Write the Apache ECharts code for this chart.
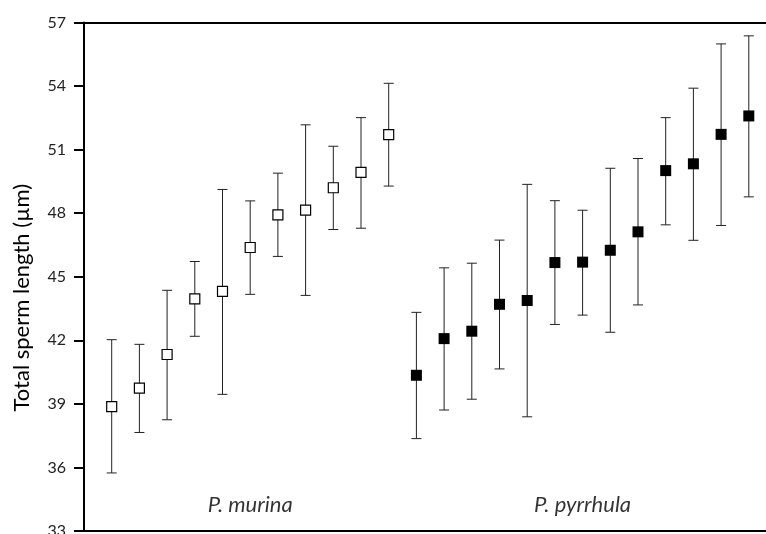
<!DOCTYPE html>
<html>
<head>
<meta charset="utf-8">
<style>
  html, body { margin: 0; padding: 0; background: #fff; }
  #chart { width: 766px; height: 534px; }
</style>
<script src="https://cdn.jsdelivr.net/npm/echarts@6/dist/echarts.min.js"></script>
</head>
<body>
<div id="chart"></div>
<script>
// group names shown inside the plot
const groupNames = ['P. murina', 'P. pyrrhula']

// means and error bar ends
const murinaMean = [38.87, 39.74, 41.33, 43.96, 44.31, 46.38, 47.92, 48.14, 49.20, 49.93, 51.71]
const murinaLow = [35.74, 37.65, 38.25, 42.19, 39.45, 44.17, 45.96, 44.12, 47.23, 47.29, 49.28]
const murinaHigh = [42.03, 41.81, 44.36, 45.72, 49.12, 48.58, 49.89, 52.17, 51.16, 52.51, 54.13]

const pyrrhulaMean = [40.35, 42.08, 42.43, 43.70, 43.88, 45.67, 45.69, 46.25, 47.12, 50.01, 50.33, 51.72, 52.59]
const pyrrhulaLow = [37.36, 38.71, 39.22, 40.65, 38.39, 42.75, 43.19, 42.38, 43.67, 47.45, 46.72, 47.42, 48.77]
const pyrrhulaHigh = [43.32, 45.42, 45.64, 46.73, 49.36, 48.59, 48.14, 50.12, 50.58, 52.51, 53.90, 55.99, 56.37]

const yTicks = [33, 36, 39, 42, 45, 48, 51, 54, 57]

const font = 'Lato, "Noto Sans", sans-serif'

// x position: individuals one after another, murina first
const nM = murinaMean.length
const nP = pyrrhulaMean.length
const murinaPts = murinaMean.map((v, i) => [i + 1, v])
const pyrrhulaPts = pyrrhulaMean.map((v, i) => [nM + i + 1, v])
const bars = murinaMean.map((v, i) => [i + 1, murinaLow[i], murinaHigh[i]])
  .concat(pyrrhulaMean.map((v, i) => [nM + i + 1, pyrrhulaLow[i], pyrrhulaHigh[i]]))
const groupPts = [
  { name: groupNames[0], value: [(1 + nM) / 2, 34.25] },
  { name: groupNames[1], value: [nM + (1 + nP) / 2, 34.25] }
]

const chart = echarts.init(document.getElementById('chart'))
chart.setOption({
  animation: false,
  grid: { left: 84, top: 22.5, right: -10.5, bottom: 3, outerBoundsMode: 'none', containLabel: false },
  xAxis: [
    {
      type: 'value', min: 0, max: nM + nP + 1,
      axisLine: { lineStyle: { color: '#000', width: 2 } },
      axisTick: { show: false }, axisLabel: { show: false }, splitLine: { show: false }
    },
    {
      type: 'value', position: 'top', min: 0, max: nM + nP + 1,
      axisLine: { show: true, lineStyle: { color: '#000', width: 2 } },
      axisTick: { show: false }, axisLabel: { show: false }, splitLine: { show: false }
    }
  ],
  yAxis: {
    type: 'value', min: yTicks[0], max: yTicks[yTicks.length - 1], interval: 3,
    name: 'Total sperm length (\u00b5m)',
    nameLocation: 'middle', nameGap: 51,
    nameTextStyle: { fontFamily: font, fontSize: 22, color: '#000', padding: [0, 42, 0, 0] },
    axisLine: { show: true, lineStyle: { color: '#000', width: 2 } },
    axisTick: { show: true, length: 10, lineStyle: { color: '#000', width: 2 } },
    axisLabel: { margin: 18, fontFamily: font, fontSize: 16, color: '#222' },
    splitLine: { show: false }
  },
  series: [
    {
      type: 'custom',
      data: bars,
      z: 2,
      renderItem(params, api) {
        const x = api.value(0)
        const lo = api.coord([x, api.value(1)])
        const hi = api.coord([x, api.value(2)])
        const half = 5
        const style = { stroke: '#222', lineWidth: 1 }
        return {
          type: 'group',
          children: [
            { type: 'line', shape: { x1: lo[0], y1: lo[1], x2: hi[0], y2: hi[1] }, style },
            { type: 'line', shape: { x1: lo[0] - half, y1: lo[1], x2: lo[0] + half, y2: lo[1] }, style },
            { type: 'line', shape: { x1: hi[0] - half, y1: hi[1], x2: hi[0] + half, y2: hi[1] }, style }
          ]
        }
      }
    },
    {
      type: 'scatter', data: murinaPts, symbol: 'rect', symbolSize: 10, z: 3,
      itemStyle: { color: '#fff', borderColor: '#000', borderWidth: 1.2, opacity: 1 }
    },
    {
      type: 'scatter', data: pyrrhulaPts, symbol: 'rect', symbolSize: 11, z: 3,
      itemStyle: { color: '#000', opacity: 1 }
    },
    {
      type: 'scatter', data: groupPts, symbolSize: 0, silent: true,
      label: {
        show: true, position: 'inside', formatter: '{b}',
        fontFamily: font, fontStyle: 'italic', fontSize: 22, color: '#000'
      }
    }
  ]
})
</script>
</body>
</html>
